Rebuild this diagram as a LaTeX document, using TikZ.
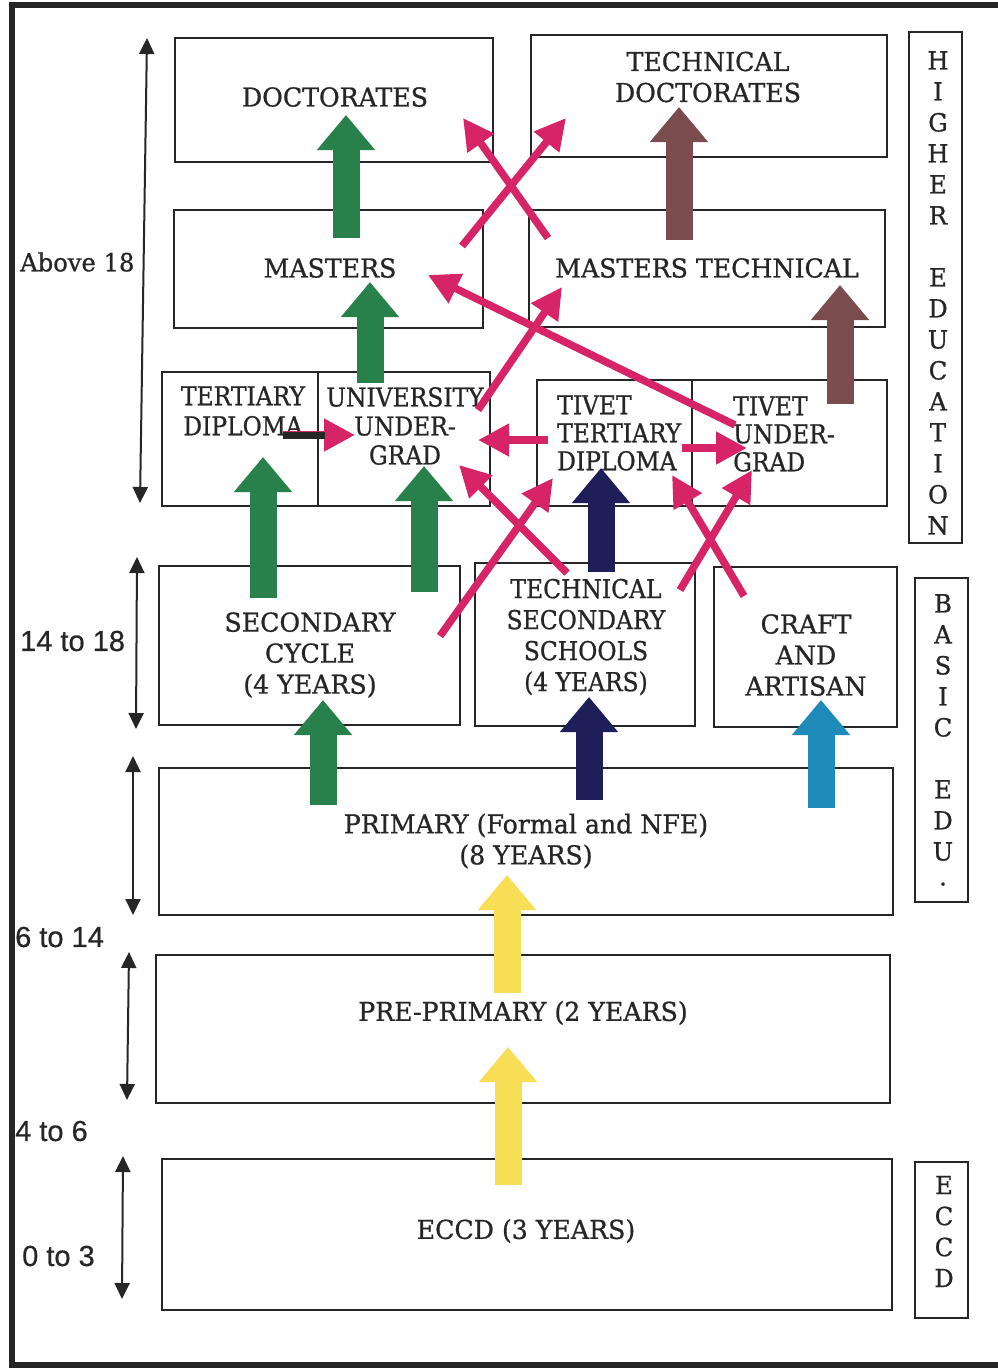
\documentclass[tikz,border=0pt]{standalone}
\usepackage{fontspec}
\setmainfont{DejaVu Serif}[FakeBold=0.8,FakeStretch=0.97]
\newfontfamily\narrowserif{DejaVu Serif}[FakeBold=0.8,FakeStretch=0.9]
\newfontfamily\lsans{Liberation Sans}[FakeBold=0.5]
\usetikzlibrary{arrows.meta}
\definecolor{agreen}{RGB}{40,128,74}
\definecolor{anavy}{RGB}{30,30,88}
\definecolor{abrown}{RGB}{122,76,78}
\definecolor{ablue}{RGB}{30,138,185}
\definecolor{ayellow}{RGB}{248,222,84}
\definecolor{apink}{RGB}{214,36,102}
\begin{document}
\begin{tikzpicture}[x=1pt,y=-1pt,
  box/.style={draw=black!85, line width=2.2pt, inner sep=0pt},
  lbl/.style={font=\fontsize{26}{31}\selectfont, align=center, inner sep=0pt, text=black!85},
  nlbl/.style={font=\narrowserif\fontsize{26}{29}\selectfont, align=center, inner sep=0pt, text=black!85},
  vlbl/.style={font=\fontsize{25}{31}\selectfont, align=center, inner sep=0pt, text=black!85},
  fat/.style={line width=27pt, -{Triangle[length=35pt,width=56pt]}},
  pk/.style={draw=apink, line width=7.5pt, -{Triangle[length=31pt,width=31pt]}},
  agearr/.style={line width=2pt, {Triangle[length=16pt,width=15pt]}-{Triangle[length=16pt,width=15pt]}},
  agelbl/.style={font=\lsans\fontsize{29}{32}\selectfont, anchor=west, inner sep=0pt, text=black!85}
]
\useasboundingbox (0,0) rectangle (998,1369);
\fill[white] (0,0) rectangle (998,1369);
% outer frame
\draw[line width=6pt, black!85] (998,5) -- (12,5) -- (12,1365) -- (998,1365);

% boxes
\node[box, minimum width=318pt, minimum height=124pt] (doc)   at (334,100) {};
\node[box, minimum width=356pt, minimum height=122pt] (tdoc)  at (709,96) {};
\node[box, minimum width=309pt, minimum height=118pt] (mas)   at (328.5,269) {};
\node[box, minimum width=356pt, minimum height=117pt] (mtech) at (707,268.5) {};
\node[box, minimum width=156pt, minimum height=134pt] (tdip)  at (240,439) {};
\node[box, minimum width=172pt, minimum height=134pt] (uug)   at (404,439) {};
\node[box, minimum width=155pt, minimum height=126pt] (tvd)   at (614.5,443) {};
\node[box, minimum width=195pt, minimum height=126pt] (tvu)   at (789.5,443) {};
\node[box, minimum width=301pt, minimum height=159pt] (sec)   at (309.5,645.5) {};
\node[box, minimum width=220pt, minimum height=163pt] (tsec)  at (585,644.5) {};
\node[box, minimum width=183pt, minimum height=160pt] (craft) at (805.5,647) {};
\node[box, minimum width=734pt, minimum height=147pt] (prim)  at (526,841.5) {};
\node[box, minimum width=734pt, minimum height=148pt] (pre)   at (523,1029) {};
\node[box, minimum width=730pt, minimum height=151pt] (eccd)  at (527,1234.5) {};
\node[box, minimum width=53pt, minimum height=511pt] (he) at (935.5,287.5) {};
\node[box, minimum width=53pt, minimum height=324pt] (be) at (941.5,740) {};
\node[box, minimum width=53pt, minimum height=156pt] (ec) at (941.5,1240) {};

% texts
\node[lbl] (tdocl) at (335,97) {DOCTORATES};
\node[lbl] (ttdoc) at (708,77) {TECHNICAL\\DOCTORATES};
\node[lbl] (tmas) at (330,268) {MASTERS};
\node[lbl] (tmtech) at (707,268) {MASTERS TECHNICAL};
\node[nlbl, font=\narrowserif\fontsize{26}{30}\selectfont] (ttdip) at (243,411) {TERTIARY\\DIPLOMA};
\node[nlbl] (tuug) at (405,426) {UNIVERSITY\\UNDER-\\GRAD};
\node[nlbl, align=left, anchor=west, font=\narrowserif\fontsize{26}{28}\selectfont] (ttvd) at (557,433) {TIVET\\TERTIARY\\DIPLOMA};
\node[nlbl, align=left, anchor=west, font=\narrowserif\fontsize{26}{28}\selectfont] (ttvu) at (733,434) {TIVET\\UNDER-\\GRAD};
\node[lbl] (tsecl) at (310,655) {SECONDARY\\CYCLE\\(4 YEARS)};
\node[nlbl, font=\narrowserif\fontsize{26}{31}\selectfont] (ttsec) at (586,637) {TECHNICAL\\SECONDARY\\SCHOOLS\\(4 YEARS)};
\node[lbl] (tcraft) at (806,655) {CRAFT\\AND\\ARTISAN};
\node[lbl] (tprim) at (526,841) {PRIMARY (Formal and NFE)\\(8 YEARS)};
\node[lbl] (tpre) at (523,1013) {PRE-PRIMARY (2 YEARS)};
\node[lbl] (teccd) at (526,1231) {ECCD (3 YEARS)};
\node[vlbl] (the) at (938,293) {H\\I\\G\\H\\E\\R\\[31pt]E\\D\\U\\C\\A\\T\\I\\O\\N};
\node[vlbl, anchor=north] (tbe) at (943,594) {B\\A\\S\\I\\C\\[31pt]E\\D\\U\\[-6pt].};
\node[vlbl] (tec) at (944,1231.5) {E\\C\\C\\D};

% age labels
\node[font=\fontsize{25}{30}\selectfont, anchor=west, inner sep=0pt, text=black!85] (l1) at (20,262) {Above 18};
\node[agelbl] (l2) at (20,641) {14 to 18};
\node[agelbl] (l3) at (15,937) {6 to 14};
\node[agelbl] (l4) at (15,1131) {4 to 6};
\node[agelbl] (l5) at (22,1256) {0 to 3};

% age arrows
\coordinate (a1t) at (147,38);  \coordinate (a1b) at (140,503);
\coordinate (a2t) at (137,557); \coordinate (a2b) at (136,729);
\coordinate (a3t) at (133,756); \coordinate (a3b) at (133,915);
\coordinate (a4t) at (129,952); \coordinate (a4b) at (127,1100);
\coordinate (a5t) at (123,1156); \coordinate (a5b) at (122,1299);
\draw[agearr, black!85] (a1t) -- (a1b);
\draw[agearr, black!85] (a2t) -- (a2b);
\draw[agearr, black!85] (a3t) -- (a3b);
\draw[agearr, black!85] (a4t) -- (a4b);
\draw[agearr, black!85] (a5t) -- (a5b);

% fat arrows
\coordinate (g1s) at (346,238); \coordinate (g1e) at (346,115);
\coordinate (g2s) at (370,383); \coordinate (g2e) at (370,282);
\coordinate (g3s) at (263,598); \coordinate (g3e) at (263,457);
\coordinate (g4s) at (424,592); \coordinate (g4e) at (424,466);
\coordinate (g5s) at (323,805); \coordinate (g5e) at (323,700);
\coordinate (n1s) at (601,572); \coordinate (n1e) at (601,468);
\coordinate (n2s) at (589,800); \coordinate (n2e) at (589,697);
\coordinate (b1s) at (679,240); \coordinate (b1e) at (679,107);
\coordinate (b2s) at (840,404); \coordinate (b2e) at (840,285);
\coordinate (c1s) at (821,808); \coordinate (c1e) at (821,700);
\coordinate (y1s) at (507,993); \coordinate (y1e) at (507,875);
\coordinate (y2s) at (508,1185); \coordinate (y2e) at (508,1047);
\draw[fat, agreen] (g1s) -- (g1e);
\draw[fat, agreen] (g2s) -- (g2e);
\draw[fat, agreen] (g3s) -- (g3e);
\draw[fat, agreen] (g4s) -- (g4e);
\draw[fat, agreen] (g5s) -- (g5e);
\draw[fat, anavy] (n1s) -- (n1e);
\draw[fat, anavy] (n2s) -- (n2e);
\draw[fat, abrown] (b1s) -- (b1e);
\draw[fat, abrown] (b2s) -- (b2e);
\draw[fat, ablue] (c1s) -- (c1e);
\draw[fat, ayellow] (y1s) -- (y1e);
\draw[fat, ayellow] (y2s) -- (y2e);

% pink arrows
\coordinate (p1s) at (548,238); \coordinate (p1e) at (463,118);
\coordinate (p2s) at (462,246); \coordinate (p2e) at (566,118);
\coordinate (p3s) at (735,425); \coordinate (p3e) at (428,275);
\coordinate (p4s) at (478,410); \coordinate (p4e) at (562,287);
\coordinate (p5s) at (548,440); \coordinate (p5e) at (478,440);
\coordinate (p6s) at (283,435); \coordinate (p6m) at (325,435); \coordinate (p6e) at (355,435);
\coordinate (p7s) at (682,448); \coordinate (p7e) at (747,448);
\coordinate (p8s) at (440,636); \coordinate (p8e) at (553,478);
\coordinate (p9s) at (567,573); \coordinate (p9e) at (459,465);
\coordinate (p10s) at (680,590); \coordinate (p10e) at (752,470);
\coordinate (p11s) at (744,596); \coordinate (p11e) at (672,475);
\draw[pk] (p1s) -- (p1e);
\draw[pk] (p2s) -- (p2e);
\draw[pk] (p3s) -- (p3e);
\draw[pk] (p4s) -- (p4e);
\draw[pk] (p5s) -- (p5e);
\draw[pk] (p6s) -- (p6e);
\draw[line width=7pt, black!85] (p6s) -- (p6m);
\draw[pk] (p7s) -- (p7e);
\draw[pk] (p8s) -- (p8e);
\draw[pk] (p9s) -- (p9e);
\draw[pk] (p10s) -- (p10e);
\draw[pk] (p11s) -- (p11e);
\end{tikzpicture}
\end{document}
